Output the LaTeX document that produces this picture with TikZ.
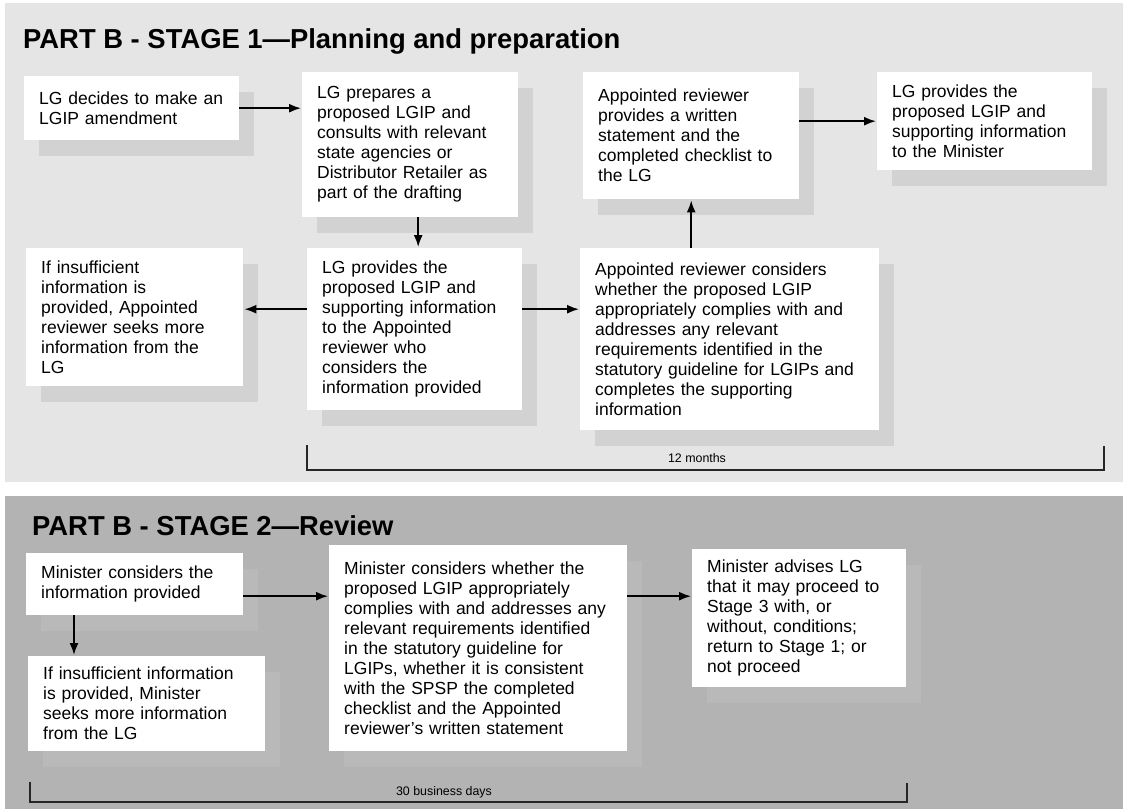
\documentclass[tikz,border=0pt]{standalone}
\usepackage{fontspec}
\setmainfont{Liberation Sans}
\usetikzlibrary{arrows.meta,positioning,shadows}

\definecolor{stageone}{HTML}{E5E5E5}
\definecolor{shadowone}{HTML}{D2D2D2}
\definecolor{stagetwo}{HTML}{B3B3B3}
\definecolor{shadowtwo}{HTML}{B9B9B9}

\begin{document}
\begin{tikzpicture}[x=1pt,y=-1pt,>={Latex[length=12pt,width=9pt]},shorten >=1pt,
		every edge/.style={draw,->,line width=1.7pt},
		stepbox/.style={rectangle,fill=white,anchor=north west,align=left,
			inner xsep=15pt,inner ysep=0pt,text width=#1,
			font=\fontsize{17.5}{20}\selectfont},
		shadeone/.style={drop shadow={shadow xshift=15pt,shadow yshift=-16pt,
			fill=shadowone,opacity=1}},
		shadetwo/.style={drop shadow={shadow xshift=15pt,shadow yshift=-16pt,
			fill=shadowtwo,opacity=1}},
		title/.style={anchor=base west,inner sep=0pt,
			font=\fontsize{27.4}{30}\selectfont\bfseries},
		span/.style={draw=black!85,line width=1.4pt},
		spanlabel/.style={inner sep=0pt,font=\fontsize{12.4}{14}\selectfont}]
	\useasboundingbox (0,0) rectangle (1123,809);
	\fill[white] (0,0) rectangle (1123,809);
	\fill[stageone] (5,3) rectangle (1123,482);
	\fill[stagetwo] (5,496) rectangle (1123,809);

	% stage 1
	\node[title] (t1) at (23,48) {PART B - STAGE 1—Planning and preparation};
	\node[stepbox=185pt,shadeone,minimum height=64pt] (amend) at (24,76)
		{LG decides to make an\\LGIP amendment};
	\node[stepbox=186pt,shadeone,minimum height=145pt] (draft) at (302,72)
		{LG prepares a\\proposed LGIP and\\consults with relevant\\state agencies or\\Distributor Retailer as\\part of the drafting};
	\node[stepbox=186pt,shadeone,minimum height=127pt] (statement) at (583,72)
		{Appointed reviewer\\provides a written\\statement and the\\completed checklist to\\the LG};
	\node[stepbox=185pt,shadeone,minimum height=98pt] (tomin) at (877,72)
		{LG provides the\\proposed LGIP and\\supporting information\\to the Minister};
	\node[stepbox=187pt,shadeone,minimum height=138pt] (seek) at (26,248)
		{If insufficient\\information is\\provided, Appointed\\reviewer seeks more\\information from the\\LG};
	\node[stepbox=185pt,shadeone,minimum height=162pt] (toreview) at (307,248)
		{LG provides the\\proposed LGIP and\\supporting information\\to the Appointed\\reviewer who\\considers the\\information provided};
	\node[stepbox=269pt,shadeone,minimum height=182pt] (check) at (580,248)
		{Appointed reviewer considers\\whether the proposed LGIP\\appropriately complies with and\\addresses any relevant\\requirements identified in the\\statutory guideline for LGIPs and\\completes the supporting\\information};

	\coordinate (fe) at ([yshift=8pt]seek.east);
	\path (amend.east) edge (amend.east -| draft.west);
	\path ([xshift=8pt]draft.south) edge ([xshift=8pt]draft.south |- toreview.north);
	\path (toreview.west |- fe) edge (fe);
	\path (toreview.east |- fe) edge (check.west |- fe);
	\path (check.north -| statement.south) edge (statement.south);
	\path (statement.east |- tomin.west) edge (tomin.west);

	\draw[span] (307,445) -- (307,470) -- (1104,470) -- (1104,445);
	\node[spanlabel] (months) at (697,458) {12 months};

	% stage 2
	\node[title] (t2) at (32,535) {PART B - STAGE 2—Review};
	\node[stepbox=187pt,shadetwo,minimum height=62pt] (mcons) at (26,553)
		{Minister considers the\\information provided};
	\node[stepbox=207pt,shadetwo,minimum height=95pt] (mseek) at (28,656)
		{If insufficient information\\is provided, Minister\\seeks more information\\from the LG};
	\node[stepbox=268pt,shadetwo,minimum height=206pt] (mreview) at (329,545)
		{Minister considers whether the\\proposed LGIP appropriately\\complies with and addresses any\\relevant requirements identified\\in the statutory guideline for\\LGIPs, whether it is consistent\\with the SPSP the completed\\checklist and the Appointed\\reviewer’s written statement};
	\node[stepbox=184pt,shadetwo,minimum height=138pt] (advise) at (692,549)
		{Minister advises LG\\that it may proceed to\\Stage 3 with, or\\without, conditions;\\return to Stage 1; or\\not proceed};

	\coordinate (ms) at ([xshift=48pt]mcons.south west);
	\coordinate (mr) at ([yshift=-12pt]mcons.east);
	\path (ms) edge (ms |- mseek.north);
	\path (mr) edge (mr -| mreview.west);
	\path (mreview.east |- mr) edge (advise.west |- mr);

	\draw[span] (30,782) -- (30,802) -- (907,802) -- (907,782);
	\node[spanlabel] (days) at (444,792) {30 business days};
\end{tikzpicture}
\end{document}
